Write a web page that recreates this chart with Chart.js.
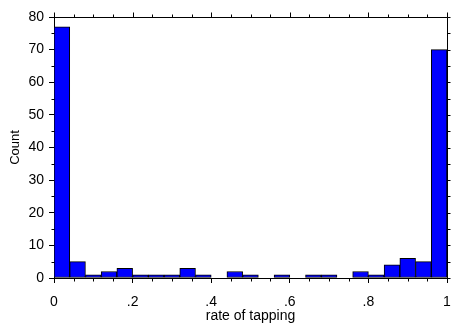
<!DOCTYPE html>
<html>
<head>
<meta charset="utf-8">
<script src="https://cdn.jsdelivr.net/npm/chart.js@4/dist/chart.umd.min.js"></script>
<style>
  html, body { margin: 0; padding: 0; background: #fff; }
  #wrap { width: 452px; height: 325px; position: relative; }
</style>
</head>
<body>
<div id="wrap"><canvas id="histChart"></canvas></div>
<script>
// histogram bins of width .04, value = bin centre
const binCenters = [0.02, 0.06, 0.10, 0.14, 0.18, 0.22, 0.26, 0.30, 0.34, 0.38,
                    0.42, 0.46, 0.50, 0.54, 0.58, 0.62, 0.66, 0.70, 0.74, 0.78,
                    0.82, 0.86, 0.90, 0.94, 0.98];
const counts = [77, 5, 1, 2, 3, 1, 1, 1, 3, 1,
                0, 2, 1, 0, 1, 0, 1, 1, 0, 2,
                1, 4, 6, 5, 70];

const xTickValues = [0, 0.2, 0.4, 0.6, 0.8, 1];
const xTickLabels = ['0', '.2', '.4', '.6', '.8', '1'];
const xMinorValues = [0.05, 0.1, 0.15, 0.25, 0.3, 0.35, 0.45, 0.5, 0.55, 0.65, 0.7, 0.75, 0.85, 0.9, 0.95];
const yTickValues = [0, 10, 20, 30, 40, 50, 60, 70, 80];
const yMinorValues = [5, 15, 25, 35, 45, 55, 65, 75];

const FONT = "'Liberation Sans', Arial, sans-serif";

// minor ticks + top / right frame like the original plot
const frameTicks = {
  id: 'frameTicks',
  afterDraw(chart) {
    const { ctx, chartArea, scales } = chart;
    const { left, right, top, bottom } = chartArea;
    const px = v => Math.round(scales.x.getPixelForValue(v)) + 0.5;
    const py = v => Math.round(scales.y.getPixelForValue(v)) + 0.5;
    const t = Math.round(top) + 0.5, r = Math.round(right) + 0.5;
    const b = Math.round(bottom) + 0.5, l = Math.round(left) + 0.5;
    ctx.save();
    ctx.strokeStyle = '#000';
    ctx.lineWidth = 1;
    ctx.beginPath();
    ctx.moveTo(l, t); ctx.lineTo(r, t); ctx.lineTo(r, b);
    for (const v of xMinorValues) {
      ctx.moveTo(px(v), b); ctx.lineTo(px(v), b + 3);
      ctx.moveTo(px(v), t); ctx.lineTo(px(v), t - 3);
    }
    for (const v of xTickValues) {
      ctx.moveTo(px(v), t); ctx.lineTo(px(v), t - 5);
    }
    for (const v of yMinorValues) {
      ctx.moveTo(l, py(v)); ctx.lineTo(l - 3, py(v));
    }
    for (const v of yTickValues.concat(yMinorValues)) {
      ctx.moveTo(r, py(v)); ctx.lineTo(r + 3, py(v));
    }
    ctx.stroke();
    ctx.restore();
  }
};

const ctx = document.getElementById('histChart').getContext('2d');

new Chart(ctx, {
  type: 'bar',
  data: {
    datasets: [{
      data: binCenters.map((x, i) => ({ x: x, y: counts[i] })),
      backgroundColor: '#0000ff',
      borderColor: '#000',
      borderWidth: 1,
      borderSkipped: false,
      barPercentage: 1,
      categoryPercentage: 1
    }]
  },
  options: {
    responsive: true,
    maintainAspectRatio: false,
    animation: false,
    devicePixelRatio: 1,
    layout: { padding: { top: 17, right: 5, left: 0, bottom: 0 } },
    plugins: { legend: { display: false }, tooltip: { enabled: false } },
    scales: {
      x: {
        type: 'linear',
        min: 0,
        max: 1,
        offset: false,
        afterBuildTicks: scale => { scale.ticks = xTickValues.map(v => ({ value: v })); },
        afterFit: scale => {
          scale.height = 47;
          scale.paddingLeft = 0;
          scale.paddingRight = 0;
        },
        ticks: {
          color: '#000',
          font: { family: FONT, size: 14 },
          padding: 11,
          maxRotation: 0,
          callback: (v, i) => xTickLabels[i]
        },
        grid: { offset: false, drawOnChartArea: false, drawTicks: true, tickLength: 5, color: '#000' },
        border: { display: true, color: '#000', width: 1 },
        title: {
          display: true,
          text: 'rate of tapping',
          color: '#000',
          font: { family: FONT, size: 14 },
          padding: { top: 0, bottom: 0 }
        }
      },
      y: {
        min: 0,
        max: 80,
        afterBuildTicks: scale => { scale.ticks = yTickValues.map(v => ({ value: v })); },
        afterFit: scale => {
          scale.width = 54;
          scale.paddingTop = 0;
          scale.paddingBottom = 0;
        },
        ticks: {
          color: '#000',
          font: { family: FONT, size: 14 },
          padding: 5
        },
        grid: { drawOnChartArea: false, drawTicks: true, tickLength: 5, color: '#000' },
        border: { display: true, color: '#000', width: 1 },
        title: {
          display: true,
          text: 'Count',
          color: '#000',
          font: { family: FONT, size: 13 },
          padding: { top: 8, bottom: 0 }
        }
      }
    }
  },
  plugins: [frameTicks]
});
</script>
</body>
</html>
